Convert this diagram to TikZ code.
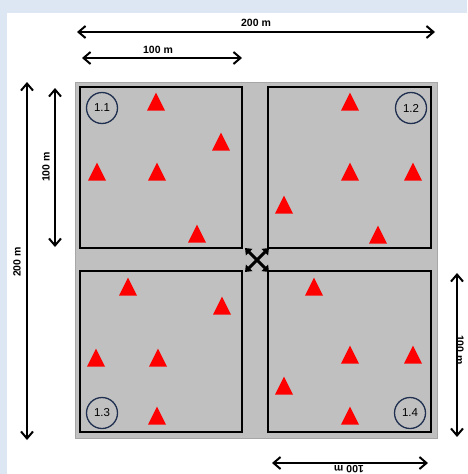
\documentclass[tikz,border=0pt]{standalone}
\usepackage{fontspec}
\setmainfont{Liberation Sans}
\usetikzlibrary{arrows.meta,shapes.geometric}
\definecolor{plotgrey}{HTML}{C0C0C0}
\definecolor{edgegrey}{HTML}{A6A6A6}
\definecolor{bgblue}{HTML}{DDE7F3}
\definecolor{navy}{HTML}{1F2F4F}
\definecolor{trired}{HTML}{FF0000}
\tikzset{
  dimarrow/.style={line width=2pt,{Straight Barb[length=7pt,width=12pt]}-{Straight Barb[length=7pt,width=12pt]}},
  dimlabel/.style={font=\fontsize{10.5}{12}\selectfont\bfseries,inner sep=1pt},
  plot/.style={draw=black,line width=1.3pt,fill=plotgrey},
  plotid/.style={circle,draw=navy,line width=1.3pt,minimum size=31pt,inner sep=0pt,font=\fontsize{11.5}{13}\selectfont},
  tri/.style={isosceles triangle,isosceles triangle stretches,shape border rotate=90,fill=trired,draw=none,minimum width=18pt,minimum height=18pt,inner sep=0pt},
  cross/.style={line width=3pt,{Triangle[length=6pt,width=9pt]}-{Triangle[length=6pt,width=9pt]}}
}
\begin{document}
\begin{tikzpicture}[x=1pt,y=-1pt]
\useasboundingbox (0,0) rectangle (467,474);
\fill[bgblue] (0,0) rectangle (467,474);
\fill[white] (7,13) rectangle (467,474);
% outer field
\draw[edgegrey,line width=1pt,fill=plotgrey] (75,82) rectangle (437,438);
% plots
\draw[plot] (80,87) rectangle (242,248);
\draw[plot] (268,87) rectangle (431,248);
\draw[plot] (80,271) rectangle (242,432);
\draw[plot] (268,271) rectangle (431,432);
% plot ids
\node[plotid] (p11) at (102,108) {1.1};
\node[plotid] (p12) at (411,108) {1.2};
\node[plotid] (p13) at (102,413) {1.3};
\node[plotid] (p14) at (410,413) {1.4};
% triangles plot 1.1
\node[tri] (a1) at (156,105) {};
\node[tri] (a2) at (221,145) {};
\node[tri] (a3) at (97,175) {};
\node[tri] (a4) at (157,175) {};
\node[tri] (a5) at (197,237) {};
% plot 1.2
\node[tri] (b1) at (350,105) {};
\node[tri] (b2) at (350,175) {};
\node[tri] (b3) at (413,175) {};
\node[tri] (b4) at (284,208) {};
\node[tri] (b5) at (378,238) {};
% plot 1.3
\node[tri] (c1) at (128,290) {};
\node[tri] (c2) at (222,309) {};
\node[tri] (c3) at (96,361) {};
\node[tri] (c4) at (158,361) {};
\node[tri] (c5) at (157,419) {};
% plot 1.4
\node[tri] (d1) at (314,290) {};
\node[tri] (d2) at (350,358) {};
\node[tri] (d3) at (413,358) {};
\node[tri] (d4) at (284,389) {};
\node[tri] (d5) at (350,419) {};
% centre cross
\coordinate (x1) at (245,248);
\coordinate (x2) at (269,272);
\coordinate (x3) at (269,248);
\coordinate (x4) at (245,272);
\draw[cross] (x1) -- (x2);
\draw[cross] (x3) -- (x4);
% dimension arrows
\coordinate (t200a) at (77,32);
\coordinate (t200b) at (435,32);
\draw[dimarrow] (t200a) -- (t200b);
\node[dimlabel] (l200t) at (256,23) {200 m};
\coordinate (t100a) at (82,58);
\coordinate (t100b) at (242,58);
\draw[dimarrow] (t100a) -- (t100b);
\node[dimlabel] (l100t) at (158,50) {100 m};
\coordinate (v200a) at (27,82);
\coordinate (v200b) at (27,440);
\draw[dimarrow] (v200a) -- (v200b);
\node[dimlabel,rotate=90] (l200l) at (17,262) {200 m};
\coordinate (v100a) at (55,88);
\coordinate (v100b) at (55,247);
\draw[dimarrow] (v100a) -- (v100b);
\node[dimlabel,rotate=90] (l100l) at (46,167) {100 m};
\coordinate (r100a) at (457,273);
\coordinate (r100b) at (457,437);
\draw[dimarrow] (r100a) -- (r100b);
\node[dimlabel,rotate=-90] (l100r) at (460,350) {100 m};
\coordinate (b100a) at (272,463);
\coordinate (b100b) at (428,463);
\draw[dimarrow] (b100a) -- (b100b);
\node[dimlabel,rotate=180] (l100b) at (349,469) {100 m};
\end{tikzpicture}
\end{document}
